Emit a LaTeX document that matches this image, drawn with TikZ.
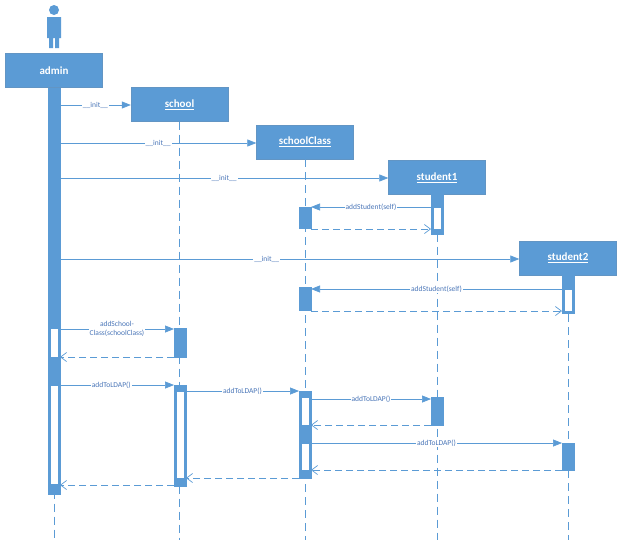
\documentclass[tikz,border=0pt]{standalone}
\usepackage{fontspec}
\setmainfont{Carlito}
\usetikzlibrary{arrows.meta}
\definecolor{uml}{HTML}{5B9BD5}
\definecolor{umltext}{HTML}{4A76B8}
\tikzset{
  head/.style={draw=uml!80!gray,fill=uml,text=white,font=\bfseries\fontsize{11}{12}\selectfont,minimum width=97pt,minimum height=34pt,inner sep=0pt},
  life/.style={uml,dash pattern=on 8pt off 5pt,line width=0.8pt},
  bar/.style={draw=uml,fill=uml,line width=0.8pt},
  hole/.style={draw=uml,fill=white,line width=0.6pt},
  msg/.style={uml,line width=0.7pt,-{Triangle[width=7pt,length=9pt]}},
  ret/.style={uml,line width=0.7pt,dash pattern=on 7pt off 4pt,-{Straight Barb[width=9pt,length=6pt]}},
  lbl/.style={fill=white,text=umltext,font=\fontsize{7.5}{8.5}\selectfont,inner sep=1pt,align=center}
}
\begin{document}
\begin{tikzpicture}[x=1pt,y=-1pt]
\useasboundingbox (0,0) rectangle (623,552);
% actor
\fill[uml] (54,10) circle (5pt);
\fill[uml] (47,17) rectangle (61,38) (49,38) rectangle (53,48) (55,38) rectangle (59,48);
% heads
\node[head] (admin) at (54,70.5) {admin};
\node[head] (school) at (179.5,104.5) {\underline{school}};
\node[head] (schoolClass) at (305,142) {\underline{schoolClass}};
\node[head] (student1) at (437,177.5) {\underline{student1}};
\node[head] (student2) at (568,258) {\underline{student2}};
% lifelines
\foreach \o in {admin,school,schoolClass,student1,student2}
  \draw[life] (\o.south) -- (\o.south |- 0,540);
% activations
\draw[bar] (48,88) rectangle (60,494);
\draw[hole] (50,328) rectangle (58,357) (50,385) rectangle (58,484);
\draw[bar] (174,328) rectangle (186,357);
\draw[bar] (174,385) rectangle (186,486);
\draw[hole] (176,391) rectangle (184,478);
\draw[bar] (299,207) rectangle (311,228);
\draw[bar] (299,287) rectangle (311,310);
\draw[bar] (299,391) rectangle (311,478);
\draw[hole] (301,397) rectangle (309,425) (301,443) rectangle (309,470);
\draw[bar] (431,193) rectangle (443,234);
\draw[hole] (433,207) rectangle (441,229);
\draw[bar] (431,397) rectangle (443,425);
\draw[bar] (562,275) rectangle (574,313);
\draw[hole] (564,289) rectangle (572,311);
\draw[bar] (562,443) rectangle (574,470);
% message end points
\coordinate (a1) at (60,105);  \coordinate (a2) at (60,143);
\coordinate (a3) at (60,178);  \coordinate (a4) at (60,259);
\coordinate (a5) at (60,329);  \coordinate (a6) at (60,357);
\coordinate (a7) at (60,385);  \coordinate (a8) at (60,485);
\coordinate (s1) at (174,329); \coordinate (s2) at (174,357);
\coordinate (s3) at (174,385); \coordinate (s4) at (186,391);
\coordinate (s5) at (186,478); \coordinate (s6) at (174,485);
\coordinate (c1) at (311,207); \coordinate (c2) at (311,229);
\coordinate (c3) at (311,289); \coordinate (c4) at (311,311);
\coordinate (c5) at (299,391); \coordinate (c6) at (311,399);
\coordinate (c7) at (311,425); \coordinate (c8) at (311,443);
\coordinate (c9) at (311,470); \coordinate (c10) at (299,478);
\coordinate (t1) at (431,207); \coordinate (t2) at (431,229);
\coordinate (t3) at (431,399); \coordinate (t4) at (431,425);
\coordinate (u1) at (562,289); \coordinate (u2) at (562,311);
\coordinate (u3) at (562,443); \coordinate (u4) at (562,470);
% messages
\draw[msg] (a1) -- node[lbl]{\_\_init\_\_} (school.west |- a1);
\draw[msg] (a2) -- node[lbl]{\_\_init\_\_} (schoolClass.west |- a2);
\draw[msg] (a3) -- node[lbl]{\_\_init\_\_} (student1.west |- a3);
\draw[msg] (t1) -- node[lbl]{addStudent(self)} (c1);
\draw[ret] (c2) -- (t2);
\draw[msg] (a4) -- node[lbl,pos=0.45]{\_\_init\_\_} (student2.west |- a4);
\draw[msg] (u1) -- node[lbl]{addStudent(self)} (c3);
\draw[ret] (c4) -- (u2);
\draw[msg] (a5) -- node[lbl]{addSchool-\\Class(schoolClass)} (s1);
\draw[ret] (s2) -- (a6);
\draw[msg] (a7) -- node[lbl,pos=0.45]{addToLDAP()} (s3);
\draw[msg] (s4) -- node[lbl]{addToLDAP()} (c5);
\draw[msg] (c6) -- node[lbl]{addToLDAP()} (t3);
\draw[ret] (t4) -- (c7);
\draw[msg] (c8) -- node[lbl]{addToLDAP()} (u3);
\draw[ret] (u4) -- (c9);
\draw[ret] (c10) -- (s5);
\draw[ret] (s6) -- (a8);
\end{tikzpicture}
\end{document}
